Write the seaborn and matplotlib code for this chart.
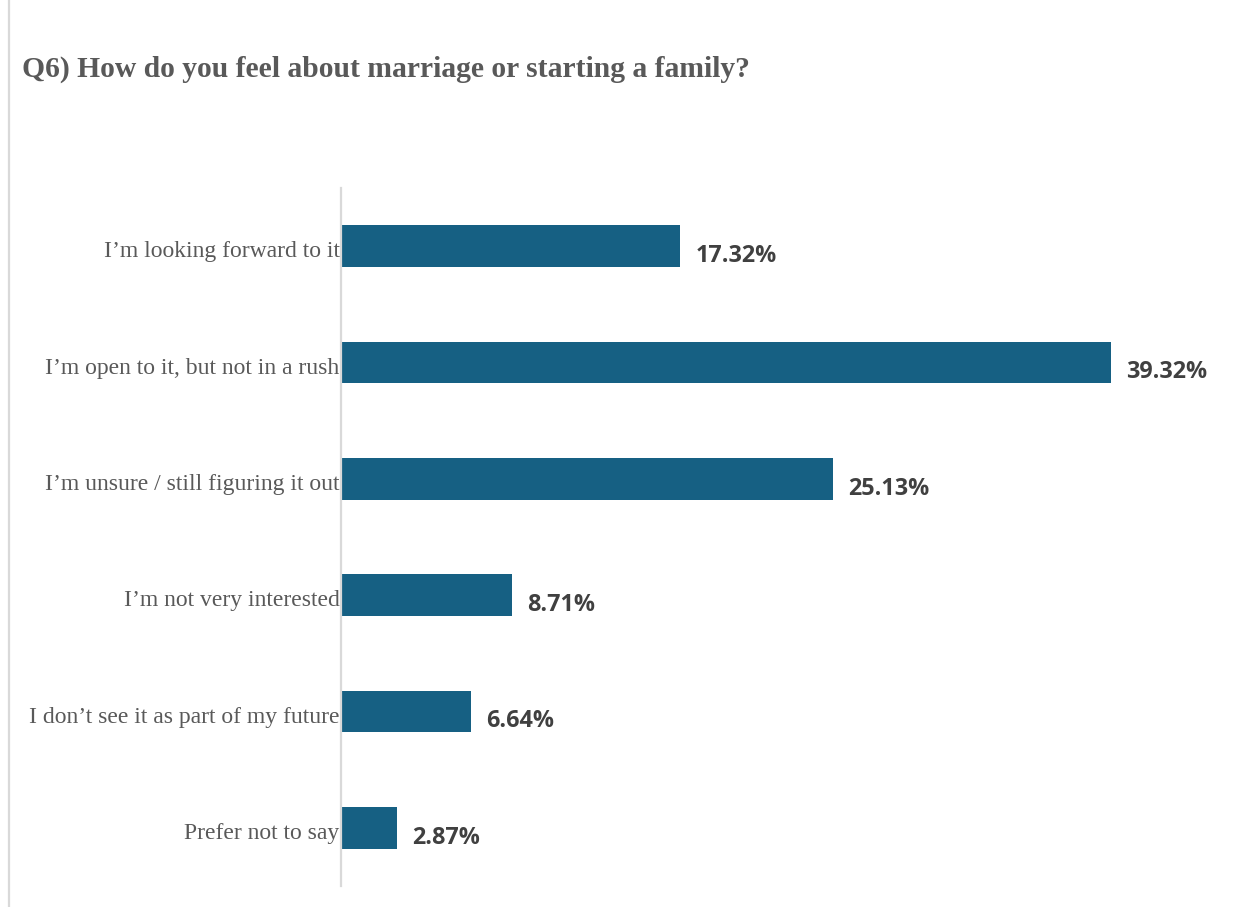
import matplotlib
matplotlib.use("Agg")
import matplotlib.pyplot as plt
import seaborn as sns
import pandas as pd
from matplotlib.lines import Line2D

# Survey responses and their shares (%)
categories = [
    "I\u2019m looking forward to it",
    "I\u2019m open to it, but not in a rush",
    "I\u2019m unsure / still figuring it out",
    "I\u2019m not very interested",
    "I don\u2019t see it as part of my future",
    "Prefer not to say",
]
shares = [17.32, 39.32, 25.13, 8.71, 6.64, 2.87]
title = "Q6) How do you feel about marriage or starting a family?"

df = pd.DataFrame({"response": categories, "share": shares})

sns.set_theme(style="white")
plt.rcParams["font.family"] = ["Liberation Serif", "DejaVu Serif"]

fig = plt.figure(figsize=(12.41, 9.07), dpi=100)
ax = fig.add_axes([341 / 1241, 1 - 886 / 907, 890 / 1241, (886 - 188) / 907])

bar_color = "#166083"
sns.barplot(data=df, x="share", y="response", orient="h", color=bar_color,
            width=0.36, saturation=1, linewidth=0, ax=ax)

ax.set_xlim(0, 890 / 19.58)
ax.set_ylim(5.5, -0.5)
ax.set_xlabel("")
ax.set_ylabel("")
ax.set_xticks([])
ax.set_yticks(range(len(categories)))
ax.set_yticklabels([])
for side in ["top", "right", "bottom"]:
    ax.spines[side].set_visible(False)
ax.spines["left"].set_color("#d9d9d9")
ax.spines["left"].set_linewidth(1.6)
ax.tick_params(axis="y", length=0)

# category labels, right-aligned against the axis line
for i, name in enumerate(categories):
    ax.annotate(name, xy=(0, i), xycoords=("axes fraction", "data"),
                xytext=(-1, -4), textcoords="offset points",
                ha="right", va="center", fontsize=17, color="#595959",
                family=["Liberation Serif", "DejaVu Serif"])

# value labels next to each bar
for i, v in enumerate(shares):
    ax.annotate(f"{v:.2f}%", xy=(v, i), xytext=(11, -7), textcoords="offset points",
                ha="left", va="center", fontsize=16.8, fontweight="bold",
                color="#404040", family=["Open Sans", "DejaVu Sans"])

# chart title
fig.text(22 / 1241, 1 - 69 / 907, title, ha="left", va="center", fontsize=21.3,
         fontweight="bold", color="#595959",
         family=["Liberation Serif", "DejaVu Serif"])

# frame edge on the left
fig.add_artist(Line2D([8.5 / 1241, 8.5 / 1241], [0, 1], transform=fig.transFigure,
                      color="#d9d9d9", linewidth=1.6))

fig.savefig("out.png", dpi=100, facecolor="white")
